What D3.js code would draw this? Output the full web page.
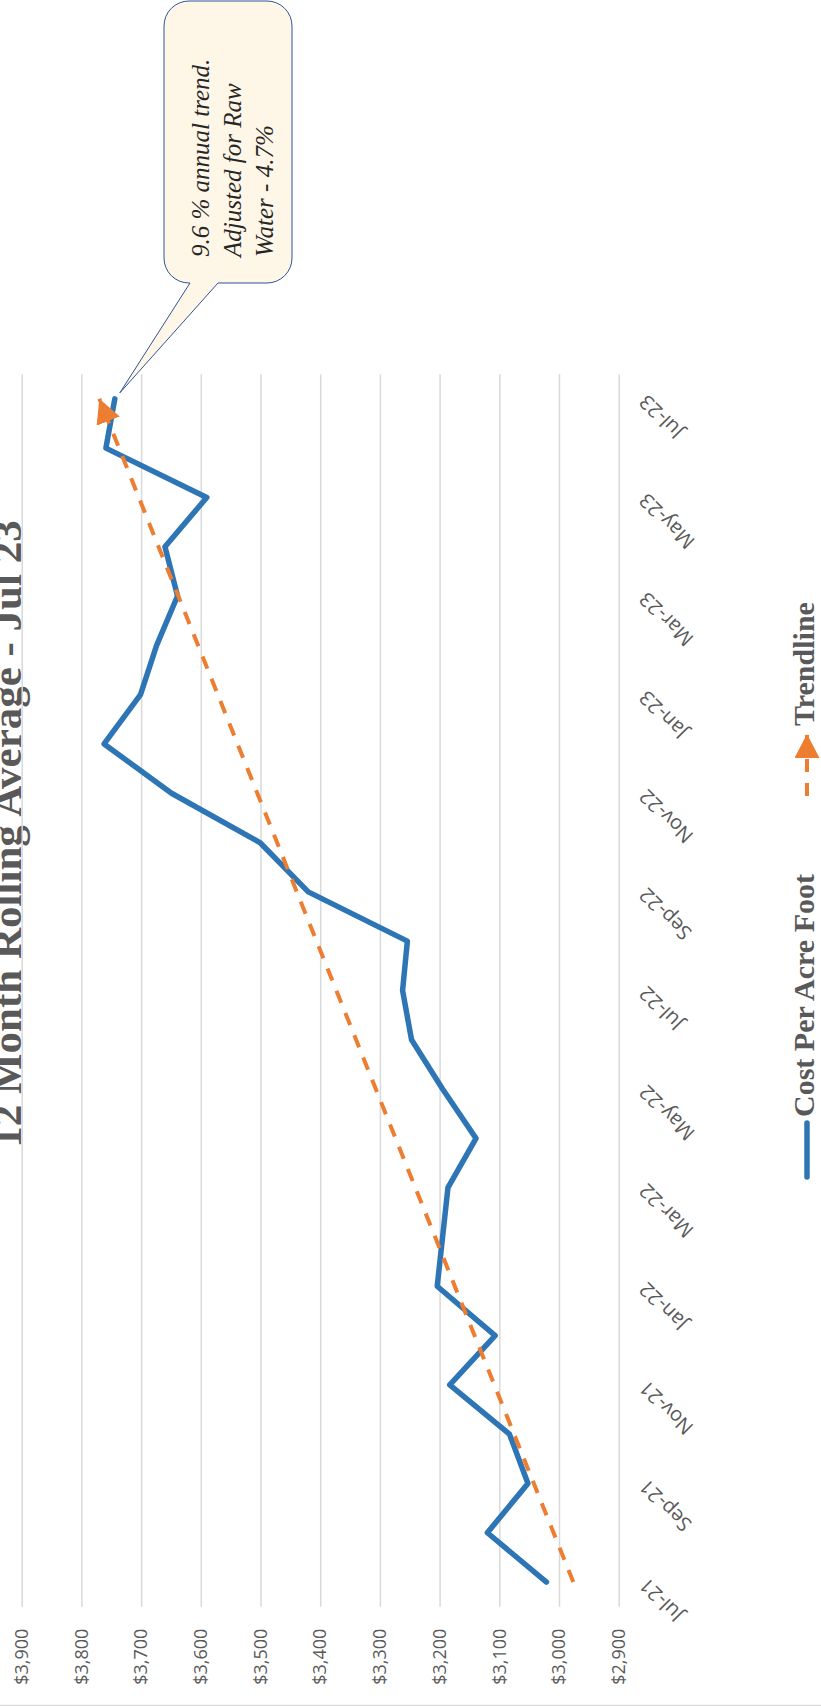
<!DOCTYPE html>
<html>
<head>
<meta charset="utf-8">
<title>12 Month Rolling Average - Jul 23</title>
<script src="https://cdn.jsdelivr.net/npm/d3@7"></script>
<style>
  html, body { margin: 0; padding: 0; background: #ffffff; }
  svg { display: block; }
</style>
</head>
<body>
<svg id="chart" width="821" height="1706"></svg>
<script>
// ---- data ----
const months = [
  "Jul-21", "Aug-21", "Sep-21", "Oct-21", "Nov-21", "Dec-21",
  "Jan-22", "Feb-22", "Mar-22", "Apr-22", "May-22", "Jun-22",
  "Jul-22", "Aug-22", "Sep-22", "Oct-22", "Nov-22", "Dec-22",
  "Jan-23", "Feb-23", "Mar-23", "Apr-23", "May-23", "Jun-23", "Jul-23"
];
const costPerAcreFoot = [
  3021, 3120, 3052, 3083, 3183, 3107,
  3204, 3195, 3186, 3139, 3195, 3247,
  3262, 3254, 3420, 3501, 3649, 3762,
  3701, 3674, 3639, 3660, 3590, 3759, 3744
];
// linear trendline end values
const trendStart = 2976;
const trendEnd = 3770;

const valueTicks = [2900, 3000, 3100, 3200, 3300, 3400, 3500, 3600, 3700, 3800, 3900];
const monthTicks = months.filter((m, i) => i % 2 === 0);

const titleText = "12 Month Rolling Average - Jul 23";
const seriesNames = ["Cost Per Acre Foot", "Trendline"];
const calloutLines = ["9.6 % annual trend.", "Adjusted for Raw", "Water - 4.7%"];

// ---- layout (chart is laid out landscape, then turned a quarter to fit the page) ----
const W = 1706, H = 821;
const plot = { left: 99.3, right: 1331.8, top: 21.7, bottom: 618.7 };
const BLUE = "#2E75B6", ORANGE = "#ED7D31", GREY = "#595959", GRID = "#D9D9D9";
const SERIF = "'Liberation Serif', 'Times New Roman', serif";
const SANS = "'Open Sans', 'Noto Sans', sans-serif";

const svg = d3.select("#chart");

const defs = svg.append("defs");
defs.append("marker")
  .attr("id", "trend-arrow")
  .attr("markerUnits", "userSpaceOnUse")
  .attr("viewBox", "0 0 24 25")
  .attr("markerWidth", 24)
  .attr("markerHeight", 25)
  .attr("refX", 24)
  .attr("refY", 12.5)
  .attr("orient", "auto")
  .append("path")
  .attr("d", "M0,0 L24,12.5 L0,25 Z")
  .attr("fill", ORANGE);

const g = svg.append("g").attr("transform", `translate(0,${W}) rotate(-90)`);

// chart area edge
g.append("line")
  .attr("x1", 0.5).attr("x2", 0.5)
  .attr("y1", 0).attr("y2", H)
  .attr("stroke", GRID).attr("stroke-width", 1.5);

const x = d3.scalePoint().domain(months).range([plot.left, plot.right]).padding(0.5);
const y = d3.scaleLinear().domain([2900, 3900]).range([plot.bottom, plot.top]);

// title
g.append("text")
  .attr("x", 872)
  .attr("y", 21)
  .attr("text-anchor", "middle")
  .attr("font-family", SERIF)
  .attr("font-weight", "bold")
  .attr("font-size", 43)
  .attr("fill", GREY)
  .text(titleText);

// value axis with gridlines
const yAxis = g.append("g")
  .attr("transform", `translate(${plot.left},0)`)
  .call(d3.axisLeft(y)
    .tickValues(valueTicks)
    .tickFormat(d3.format("$,"))
    .tickSize(-(plot.right - plot.left))
    .tickPadding(22));
yAxis.select(".domain").remove();
yAxis.selectAll(".tick line").attr("stroke", GRID).attr("stroke-width", 1.5);
yAxis.selectAll(".tick text")
  .attr("font-family", SANS)
  .attr("font-size", 18)
  .attr("fill", GREY);

// category axis
const xAxis = g.append("g")
  .attr("transform", `translate(0,${plot.bottom})`)
  .call(d3.axisBottom(x).tickValues(monthTicks).tickSize(0).tickPadding(0));
xAxis.select(".domain").remove();
xAxis.selectAll(".tick text")
  .attr("y", 0)
  .attr("dy", "0.35em")
  .attr("text-anchor", "end")
  .attr("transform", "translate(0,24) rotate(-45)")
  .attr("font-family", SANS)
  .attr("font-size", 20)
  .attr("fill", GREY);

// cost series
const line = d3.line()
  .x(d => x(d.month))
  .y(d => y(d.value));
const series = months.map((m, i) => ({ month: m, value: costPerAcreFoot[i] }));
g.append("path")
  .datum(series)
  .attr("d", line)
  .attr("fill", "none")
  .attr("stroke", BLUE)
  .attr("stroke-width", 5.5)
  .attr("stroke-linejoin", "round")
  .attr("stroke-linecap", "round");

// trendline
const trend = [
  { month: months[0], value: trendStart },
  { month: months[months.length - 1], value: trendEnd }
];
g.append("path")
  .datum(trend)
  .attr("d", line)
  .attr("fill", "none")
  .attr("stroke", ORANGE)
  .attr("stroke-width", 4)
  .attr("stroke-dasharray", "13 11")
  .attr("marker-end", "url(#trend-arrow)");

// legend
const legend = g.append("g").attr("transform", "translate(0,807)");
legend.append("line")
  .attr("x1", 529).attr("x2", 583)
  .attr("y1", 0).attr("y2", 0)
  .attr("stroke", BLUE).attr("stroke-width", 5.5).attr("stroke-linecap", "round");
legend.append("text")
  .attr("x", 589).attr("y", 7)
  .attr("font-family", SERIF).attr("font-weight", "bold").attr("font-size", 30)
  .attr("fill", GREY)
  .text(seriesNames[0]);
legend.append("line")
  .attr("x1", 910).attr("x2", 972)
  .attr("y1", 0).attr("y2", 0)
  .attr("stroke", ORANGE).attr("stroke-width", 4)
  .attr("stroke-dasharray", "13 11")
  .attr("marker-end", "url(#trend-arrow)");
legend.append("text")
  .attr("x", 980).attr("y", 7)
  .attr("font-family", SERIF).attr("font-weight", "bold").attr("font-size", 30)
  .attr("fill", GREY)
  .text(seriesNames[1]);

// callout pointing at the latest month
const last = months.length - 1;
const tipX = x(months[last]) + 6;
const tipY = y(costPerAcreFoot[last]) + 5;
const box = { l: 1423, r: 1705, t: 164, b: 292, rad: 25 };
const calloutPath = [
  `M${box.l + box.rad},${box.t}`,
  `H${box.r - box.rad}`,
  `A${box.rad},${box.rad} 0 0 1 ${box.r},${box.t + box.rad}`,
  `V${box.b - box.rad}`,
  `A${box.rad},${box.rad} 0 0 1 ${box.r - box.rad},${box.b}`,
  `H${box.l + box.rad}`,
  `A${box.rad},${box.rad} 0 0 1 ${box.l},${box.b - box.rad}`,
  `V218`,
  `L${tipX},${tipY}`,
  `L${box.l},190`,
  `V${box.t + box.rad}`,
  `A${box.rad},${box.rad} 0 0 1 ${box.l + box.rad},${box.t}`,
  "Z"
].join(" ");
g.append("path")
  .attr("d", calloutPath)
  .attr("fill", "#FEF6E7")
  .attr("stroke", "#2F5597")
  .attr("stroke-width", 1);

g.append("g")
  .selectAll("text")
  .data(calloutLines)
  .join("text")
  .attr("x", 1449)
  .attr("y", (d, i) => 209 + i * 32)
  .attr("font-family", SERIF)
  .attr("font-style", "italic")
  .attr("font-size", 25)
  .attr("fill", "#262626")
  .text(d => d);
</script>
</body>
</html>
